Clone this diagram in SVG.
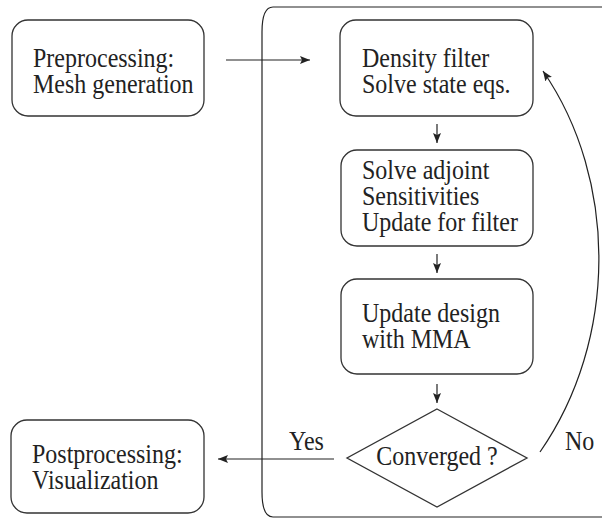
<svg xmlns="http://www.w3.org/2000/svg" width="602" height="518" viewBox="0 0 602 518">
<style>
.box{fill:#fff;stroke:#333;stroke-width:1.3}
.ln{fill:none;stroke:#222;stroke-width:1.2}
text{font-family:"Liberation Serif","Times New Roman",serif;font-size:24px;fill:#222}
</style>
<defs>
<marker id="ah" viewBox="0 0 10 8" refX="10" refY="4" markerWidth="10" markerHeight="8" markerUnits="userSpaceOnUse" orient="auto">
<path d="M0,0 L10,4 L0,8 L2,4 Z" fill="#222"/>
</marker>
</defs>
<rect width="602" height="518" fill="#fff"/>
<g id="container">
<path class="ln" d="M602,7 H273 Q262,7 262,32 V492 Q262,517 273,517 H602" stroke="#333" stroke-width="1.3"/>
</g>
<g id="preprocessing">
<rect class="box" x="12" y="20" width="192" height="96" rx="16"/>
<text transform="translate(33,67) scale(1,1.15)"><tspan x="0" y="0">Preprocessing:</tspan><tspan x="0" dy="22.6">Mesh generation</tspan></text>
</g>
<g id="density">
<rect class="box" x="340" y="20" width="193" height="96" rx="16"/>
<text transform="translate(362,67) scale(1,1.15)"><tspan x="0" y="0">Density filter</tspan><tspan x="0" dy="22.6">Solve state eqs.</tspan></text>
</g>
<g id="adjoint">
<rect class="box" x="341" y="150" width="192" height="96" rx="16"/>
<text transform="translate(362,179) scale(1,1.15)"><tspan x="0" y="0">Solve adjoint</tspan><tspan x="0" dy="22.6">Sensitivities</tspan><tspan x="0" dy="22.6">Update for filter</tspan></text>
</g>
<g id="mma">
<rect class="box" x="341" y="279" width="192" height="95" rx="16"/>
<text transform="translate(362,322) scale(1,1.15)"><tspan x="0" y="0">Update design</tspan><tspan x="0" dy="22.6">with MMA</tspan></text>
</g>
<g id="converged">
<polygon class="box" points="437,409 527,458 437,507 347,458"/>
<text text-anchor="middle" transform="translate(437,465) scale(1,1.15)">Converged ?</text>
</g>
<g id="postprocessing">
<rect class="box" x="11" y="420" width="193" height="93" rx="16"/>
<text transform="translate(32,463) scale(1,1.15)"><tspan x="0" y="0">Postprocessing:</tspan><tspan x="0" dy="22.6">Visualization</tspan></text>
</g>
<g id="connectors">
<line class="ln" x1="226" y1="60" x2="310" y2="60" marker-end="url(#ah)"/>
<line class="ln" x1="437" y1="124" x2="437" y2="143" marker-end="url(#ah)"/>
<line class="ln" x1="437" y1="254" x2="437" y2="273" marker-end="url(#ah)"/>
<line class="ln" x1="437" y1="384" x2="437" y2="403" marker-end="url(#ah)"/>
<line class="ln" x1="334" y1="459" x2="218" y2="459" marker-end="url(#ah)"/>
<path class="ln" d="M540,452 C618,340 618,180 543,71" marker-end="url(#ah)"/>
<text transform="translate(289,450) scale(1,1.15)">Yes</text>
<text transform="translate(565,450) scale(1,1.15)">No</text>
</g>
</svg>
